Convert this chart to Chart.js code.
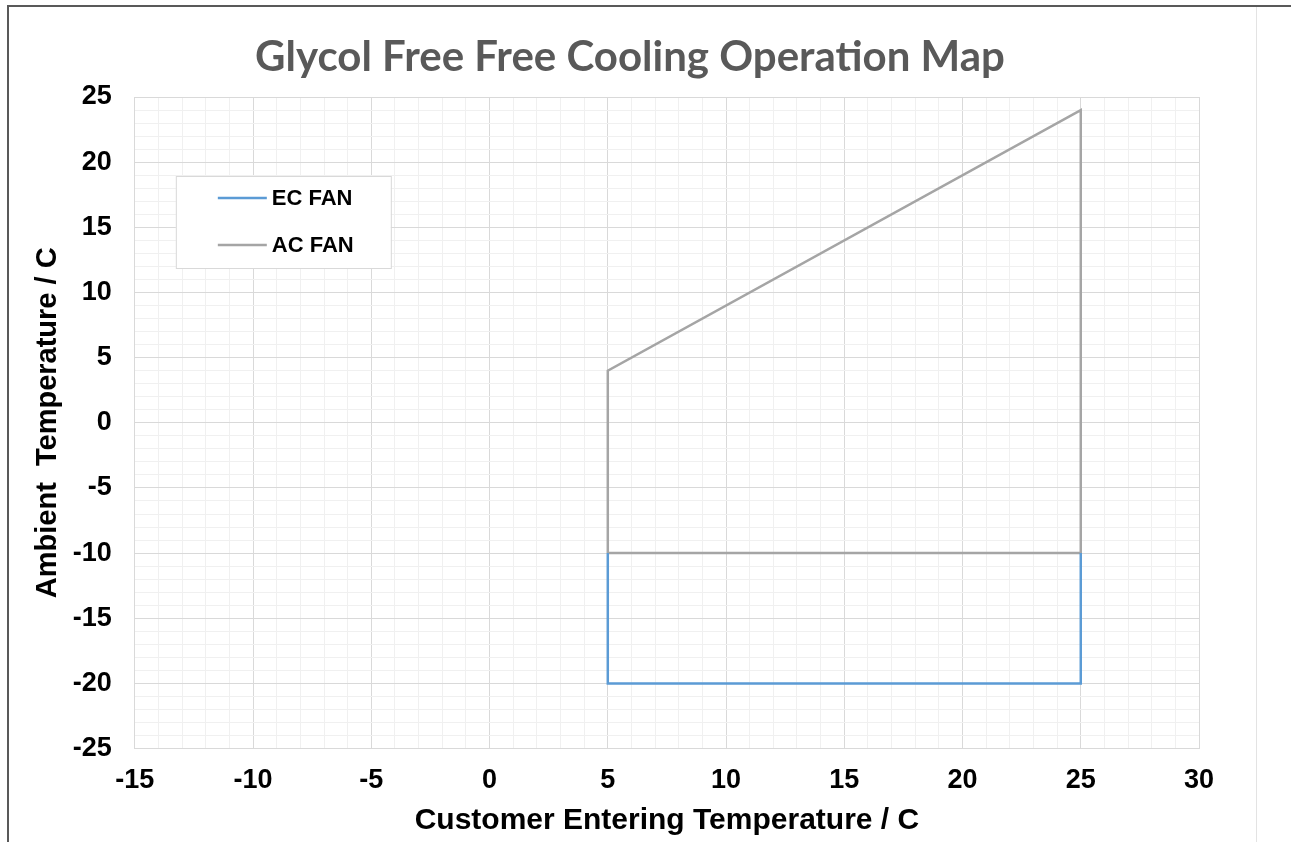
<!DOCTYPE html>
<html>
<head>
<meta charset="utf-8">
<title>Glycol Free Free Cooling Operation Map</title>
<script src="https://cdn.jsdelivr.net/npm/chart.js@4.4.1/dist/chart.umd.min.js"></script>
<style>
  html, body { margin: 0; padding: 0; background: #fff; }
  #wrap { position: relative; width: 1291px; height: 842px; overflow: hidden; }
  #frameTop { position: absolute; left: 7px; top: 5px; right: 0; height: 2px; background: #595959; }
  #frameLeft { position: absolute; left: 7px; top: 5px; bottom: 0; width: 2px; background: #595959; }
  #frameRight { position: absolute; left: 1256px; top: 7px; bottom: 0; width: 1px; background: #e3e3e3; }
  canvas { position: absolute; left: 0; top: 0; }
</style>
</head>
<body>
<div id="wrap">
  <canvas id="mapChart" width="1291" height="842"></canvas>
  <div id="frameTop"></div>
  <div id="frameLeft"></div>
  <div id="frameRight"></div>
</div>
<script>
// operating envelope corners (x = customer entering temp, y = ambient temp)
const ecFanX = [5, 5, 25, 25];
const ecFanY = [-10, -20, -20, -10];
const acFanX = [5, 5, 25, 25, 5];
const acFanY = [-10, 4, 24, -10, -10];

const seriesNames = ["EC FAN", "AC FAN"];
const chartTitle = "Glycol Free Free Cooling Operation Map";
const xTitle = "Customer Entering Temperature / C";
const yTitle = "Ambient  Temperature / C";

const xRange = [-15, 30];
const yRange = [-25, 25];
const majorStep = 5;

const toPoints = (xs, ys) => xs.map((x, i) => ({ x, y: ys[i] }));

const fontFamily = "'Liberation Sans', Arial, sans-serif";
const tickFont = { family: fontFamily, size: 27, weight: "bold" };

// grid: light lines every unit, darker every 5
const gridColor = (ctx) =>
  ctx.tick && ctx.tick.value % majorStep === 0 ? "#d9d9d9" : "#f0f0f0";
const majorLabel = (value) => (value % majorStep === 0 ? value : "");

// chart title drawn slightly left of the plot centre
const titlePlugin = {
  id: "mapTitle",
  afterDraw(chart, args, opts) {
    const ctx = chart.ctx;
    ctx.save();
    ctx.font = "bold 42px Lato, 'Open Sans', sans-serif";
    ctx.fillStyle = "#595959";
    ctx.textAlign = "center";
    ctx.textBaseline = "middle";
    ctx.fillText(opts.text, opts.x, opts.y);
    ctx.restore();
  },
};

// boxed legend sitting inside the plot area
const boxLegend = {
  id: "boxLegend",
  afterDraw(chart, args, opts) {
    const { ctx, chartArea } = chart;
    const left = chartArea.left + opts.offsetX;
    const top = chartArea.top + opts.offsetY;
    ctx.save();
    ctx.fillStyle = "#ffffff";
    ctx.fillRect(left, top, opts.width, opts.height);
    ctx.strokeStyle = "#d9d9d9";
    ctx.lineWidth = 1;
    ctx.strokeRect(left + 0.5, top + 0.5, opts.width, opts.height);
    ctx.font = "bold 22px " + fontFamily;
    ctx.textBaseline = "middle";
    chart.data.datasets.forEach((ds, i) => {
      const y = top + 22 + i * 47;
      ctx.strokeStyle = ds.borderColor;
      ctx.lineWidth = ds.borderWidth;
      ctx.beginPath();
      ctx.moveTo(left + 42, y);
      ctx.lineTo(left + 91, y);
      ctx.stroke();
      ctx.fillStyle = "#000";
      ctx.fillText(ds.label, left + 96, y + 1);
    });
    ctx.restore();
  },
};

new Chart(document.getElementById("mapChart"), {
  type: "scatter",
  data: {
    datasets: [
      {
        label: seriesNames[0],
        data: toPoints(ecFanX, ecFanY),
        showLine: true,
        borderColor: "#5b9bd5",
        borderWidth: 2.5,
        pointRadius: 0,
        fill: false,
      },
      {
        label: seriesNames[1],
        data: toPoints(acFanX, acFanY),
        showLine: true,
        borderColor: "#a5a5a5",
        borderWidth: 2.5,
        pointRadius: 0,
        fill: false,
      },
    ],
  },
  options: {
    responsive: false,
    animation: false,
    layout: { padding: { top: 97, right: 92, bottom: 0, left: 0 } },
    plugins: {
      legend: { display: false },
      tooltip: { enabled: false },
      mapTitle: { text: chartTitle, x: 630, y: 57 },
      boxLegend: { offsetX: 41, offsetY: 79, width: 215, height: 92 },
    },
    scales: {
      x: {
        type: "linear",
        min: xRange[0],
        max: xRange[1],
        ticks: {
          stepSize: 1,
          autoSkip: false,
          maxRotation: 0,
          padding: 16,
          color: "#000",
          font: tickFont,
          callback: majorLabel,
        },
        grid: { color: gridColor, drawTicks: false },
        border: { color: "#d9d9d9" },
        // tick padding is counted twice in the axis height, so pull the title up
        title: {
          display: true,
          text: xTitle,
          color: "#000",
          font: { family: fontFamily, size: 30, weight: "bold" },
          padding: { top: -10, bottom: 3 },
        },
      },
      y: {
        type: "linear",
        min: yRange[0],
        max: yRange[1],
        ticks: {
          stepSize: 1,
          autoSkip: false,
          padding: 23,
          color: "#000",
          font: tickFont,
          callback: majorLabel,
        },
        grid: { color: gridColor, drawTicks: false },
        border: { color: "#d9d9d9" },
        title: {
          display: true,
          text: yTitle,
          color: "#000",
          font: { family: fontFamily, size: 29, weight: "bold" },
          padding: { top: 31, bottom: -16 },
        },
      },
    },
  },
  plugins: [titlePlugin, boxLegend],
});
</script>
</body>
</html>
